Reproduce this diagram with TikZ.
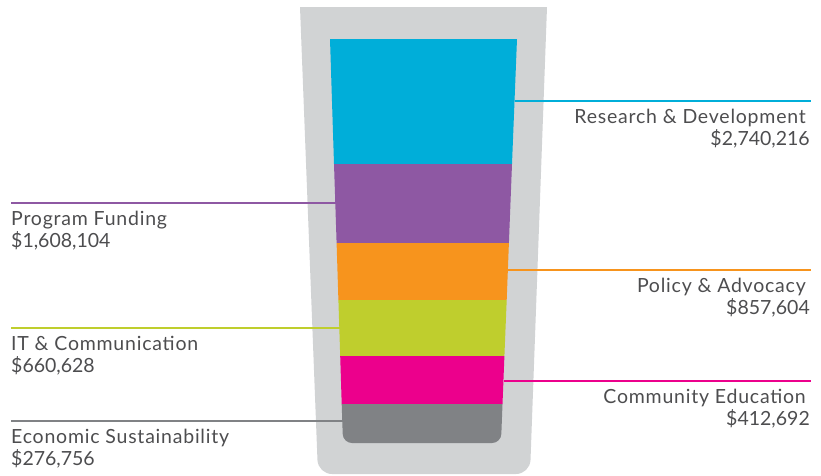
\documentclass[tikz,border=0pt]{standalone}
\usepackage{fontspec}
\setmainfont{Lato}[LetterSpace=4]
\newfontfamily\figurefont{Lato}
\definecolor{glassgray}{RGB}{209,211,212}
\definecolor{rdcyan}{RGB}{0,174,217}
\definecolor{pfpurple}{RGB}{142,88,163}
\definecolor{paorange}{RGB}{247,148,29}
\definecolor{itcgreen}{RGB}{191,206,45}
\definecolor{cepink}{RGB}{236,0,140}
\definecolor{esgray}{RGB}{128,130,133}
\definecolor{labeltext}{RGB}{77,77,79}
\tikzset{
  amount/.style={inner sep=0pt, text=labeltext, font=\fontsize{19.5}{21.5}\selectfont},
  leftlabel/.style={amount, align=left, anchor=base west},
  rightlabel/.style={amount, align=right, anchor=base east},
  connector/.style={line width=2pt}
}
\begin{document}
\begin{tikzpicture}[x=1pt,y=-1pt]
    \useasboundingbox (0,0) rectangle (821,475);
    % the glass
    \fill[glassgray] (424,474) [rounded corners=14] -- (318,474) [sharp corners] -- (300,7) -- (547,7) [rounded corners=14] -- (530,474) [sharp corners] -- cycle;
    % band edges where the connectors meet
    \coordinate (rdE) at (514.5,101);
    \coordinate (pfE) at (335.5,203);
    \coordinate (paE) at (508,270);
    \coordinate (itcE) at (339.5,328);
    \coordinate (ceE) at (503.5,381);
    \coordinate (esE) at (342.5,421);
    % labels
    \node[rightlabel] (rd) at (810,145) {Research \& Development\hspace*{4pt}\\ {\figurefont \$2,740,216}};
    \node[leftlabel] (pf) at (11,247) {Program Funding\\ {\figurefont \$1,608,104}};
    \node[rightlabel] (pa) at (810,314) {Policy \& Advocacy\hspace*{4pt}\\ {\figurefont \$857,604}};
    \node[leftlabel] (itc) at (11,372) {IT \& Communication\\ {\figurefont \$660,628}};
    \node[rightlabel] (ce) at (810,425) {Community Education\hspace*{4pt}\\ {\figurefont \$412,692}};
    \node[leftlabel] (es) at (11,465) {Economic Sustainability\\ {\figurefont \$276,756}};
    % connectors
    \draw[connector, rdcyan] (rdE) -- (rdE -| 811,0);
    \draw[connector, pfpurple] (pfE) -- (pfE -| pf.west);
    \draw[connector, paorange] (paE) -- (paE -| 811,0);
    \draw[connector, itcgreen] (itcE) -- (itcE -| itc.west);
    \draw[connector, cepink] (ceE) -- (ceE -| 811,0);
    \draw[connector, esgray] (esE) -- (esE -| es.west);
    % the bands
    \fill[rdcyan] (330,39) -- (517,39) -- (512,164) -- (334,164) -- cycle;
    \fill[pfpurple] (334,164) -- (512,164) -- (508.9,243) -- (336.6,243) -- cycle;
    \fill[paorange] (336.6,243) -- (508.9,243) -- (506.7,300) -- (338.4,300) -- cycle;
    \fill[itcgreen] (338.4,300) -- (506.7,300) -- (504.4,356) -- (340.2,356) -- cycle;
    \fill[cepink] (340.2,356) -- (504.4,356) -- (502.5,404) -- (341.7,404) -- cycle;
    \fill[esgray] (422,443) [rounded corners=9] -- (343,443) [sharp corners] -- (341.7,404) -- (502.5,404) [rounded corners=9] -- (501,443) [sharp corners] -- cycle;
\end{tikzpicture}
\end{document}
